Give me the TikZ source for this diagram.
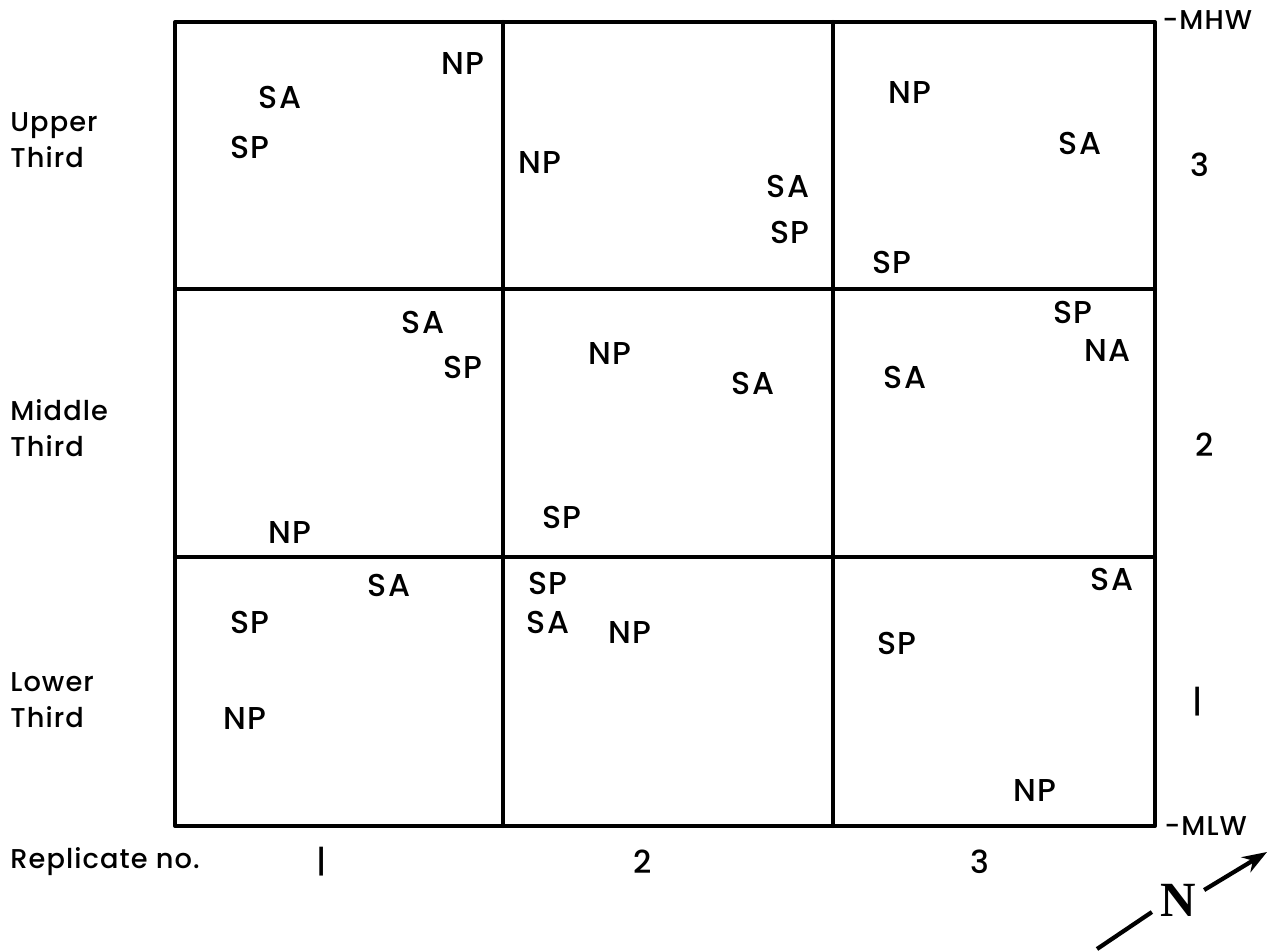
\documentclass[tikz,border=0pt]{standalone}
\usepackage{fontspec}
\setmainfont{Poppins}[LetterSpace=4, UprightFont={* Medium}]
\newfontfamily\northfont{Liberation Serif}
\usepackage{tikz}
\usetikzlibrary{arrows.meta,positioning,calc}

\tikzset{
  species/.style={font=\fontsize{18}{20}\selectfont, inner sep=0pt},
  sidelabel/.style={font=\fontsize{15.5}{20.5}\selectfont, align=left, anchor=west, inner sep=0pt},
  plotline/.style={line width=2.3pt, line cap=round, line join=round}
}

\begin{document}
\begin{tikzpicture}[x=0.02cm, y=-0.02cm]
\useasboundingbox (0,0) rectangle (1280,950);

% Plot outline and replicate / third divisions
\draw[plotline] (175,22) rectangle (1155,826);
\draw[plotline] (503,22) -- (503,826);
\draw[plotline] (833,22) -- (833,826);
\draw[plotline] (175,289) -- (1155,289);
\draw[plotline] (175,557) -- (1155,557);

% Upper third
\node[species] (u1np) at (463,63) {NP};
\node[species] (u1sa) at (280,97) {SA};
\node[species] (u1sp) at (250,147) {SP};
\node[species] (u2np) at (540,162) {NP};
\node[species] (u2sa) at (788,186) {SA};
\node[species] (u2sp) at (790,232) {SP};
\node[species] (u3np) at (910,92) {NP};
\node[species] (u3sa) at (1080,143) {SA};
\node[species] (u3sp) at (892,262) {SP};

% Middle third
\node[species] (m1sa) at (423,322) {SA};
\node[species] (m1sp) at (463,367) {SP};
\node[species] (m1np) at (290,532) {NP};
\node[species] (m2np) at (610,353) {NP};
\node[species] (m2sa) at (753,383) {SA};
\node[species] (m2sp) at (562,517) {SP};
\node[species] (m3sp) at (1073,312) {SP};
\node[species] (m3na) at (1108,350) {NA};
\node[species] (m3sa) at (905,377) {SA};

% Lower third
\node[species] (l1sa) at (389,585) {SA};
\node[species] (l1sp) at (250,622) {SP};
\node[species] (l1np) at (245,718) {NP};
\node[species] (l2sp) at (548,583) {SP};
\node[species] (l2sa) at (548,622) {SA};
\node[species] (l2np) at (630,632) {NP};
\node[species] (l3sa) at (1112,579) {SA};
\node[species] (l3sp) at (897,643) {SP};
\node[species] (l3np) at (1035,790) {NP};

% Side labels
\node[sidelabel] (upper) at (10,140) {Upper\\Third};
\node[sidelabel] (middle) at (10,428) {Middle\\Third};
\node[sidelabel] (lower) at (10,700) {Lower\\Third};
\node[sidelabel] (mhw) at (1162,20) {-MHW};
\node[sidelabel] (mlw) at (1164,826) {-MLW};
\node[species] (lev3) at (1200,165) {3};
\node[species] (lev2) at (1205,445) {2};
\node[species] (lev1) at (1198,702) {|};

% Replicates
\node[sidelabel] (repl) at (10,862) {Replicate no.};
\node[species] (rep1) at (322,862) {|};
\node[species] (rep2) at (643,862) {2};
\node[species] (rep3) at (980,862) {3};

% North arrow
\node[font=\northfont\bfseries\fontsize{28}{28}\selectfont, inner sep=0pt] (north) at (1178,900) {N};
\coordinate (ntail) at (1097,949);
\coordinate (nhead) at (1267,852);
\draw[line width=2.4pt] (ntail) -- ($(north.west)+(-8,12)$);
\draw[line width=2.4pt, -{Stealth[length=14pt, width=10pt]}] ($(north.east)+(8,-10)$) -- (nhead);

\end{tikzpicture}
\end{document}
